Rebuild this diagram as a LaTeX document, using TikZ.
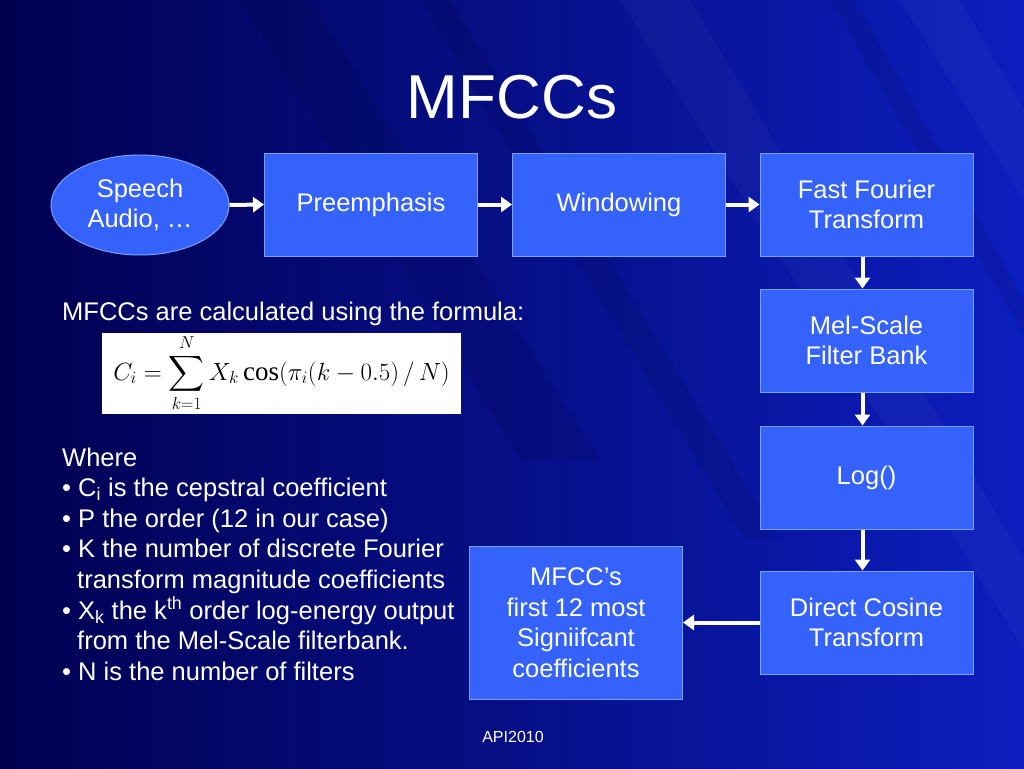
\documentclass[tikz,border=0pt]{standalone}
\usepackage{exscale}
\usepackage{fontspec}
\setmainfont{Liberation Serif}
\newfontfamily\arial{Liberation Sans}
\usetikzlibrary{shapes.geometric,arrows.meta}
\definecolor{bgA}{RGB}{0,0,80}
\definecolor{bgB}{RGB}{0,4,138}
\definecolor{bgC}{RGB}{12,30,190}
\definecolor{boxfill}{RGB}{52,98,250}
\definecolor{boxline}{RGB}{120,160,255}
\tikzset{
  stepbox/.style={draw=boxline, line width=1pt, fill=boxfill, text=white,
    minimum width=213pt, minimum height=103pt, inner sep=0pt, align=center,
    font=\arial\fontsize{25.5}{30.5}\selectfont},
  flow/.style={draw=white, line width=4pt, -{Triangle[width=15pt,length=11pt]}},
  bodytext/.style={anchor=base west, text=white, inner sep=0pt,
    font=\arial\fontsize{25.5}{30}\selectfont},
  streak/.style={fill=black, fill opacity=0.08},
  lstreak/.style={fill=white, fill opacity=0.03}
}
\begin{document}
\begin{tikzpicture}[x=1pt,y=-1pt]
\useasboundingbox (0,0) rectangle (1024,768);
\shade[left color=bgA, middle color=bgB, right color=bgC] (0,0) rectangle (1024,768);
% subtle diagonal streaks
\fill[streak] (240,0) -- (310,0) -- (600,460) -- (520,460) -- cycle;
\fill[streak] (420,0) -- (450,0) -- (780,540) -- (745,540) -- cycle;
\fill[lstreak] (620,0) -- (690,0) -- (1024,560) -- (1024,650) -- cycle;
\fill[streak] (830,0) -- (855,0) -- (1024,300) -- (1024,335) -- cycle;
\fill[lstreak] (900,0) -- (960,0) -- (1024,110) -- (1024,200) -- cycle;

% title
\node[text=white, font=\arial\fontsize{62}{70}\selectfont, anchor=base] (title) at (512,118) {MFCCs};

% flow
\node[ellipse, draw=boxline, line width=1pt, fill=boxfill, text=white,
  minimum width=178pt, minimum height=100pt, inner sep=0pt, align=center,
  font=\arial\fontsize{25.5}{30.5}\selectfont] (speech) at (140,205) {Speech\\Audio, \dots};
\node[stepbox] (pre) at (371,204.5) {Preemphasis};
\node[stepbox] (win) at (619,204.5) {Windowing};
\node[stepbox] (fft) at (866.5,204.5) {Fast Fourier\\Transform};
\node[stepbox] (mel) at (866.5,340.5) {Mel-Scale\\Filter Bank};
\node[stepbox] (log) at (866.5,477.5) {Log()};
\node[stepbox] (dct) at (866.5,622.5) {Direct Cosine\\Transform};
\node[stepbox, minimum height=153pt] (mfcc) at (576,622.5) {MFCC’s\\first 12 most\\Signiifcant\\coefficients};

\draw[flow] (speech.east) -- (pre.west);
\draw[flow] (pre.east) -- (win.west);
\draw[flow] (win.east) -- (fft.west);
\draw[flow] ([xshift=-4pt]fft.south) -- ([xshift=-4pt]mel.north);
\draw[flow] ([xshift=-4pt]mel.south) -- ([xshift=-4pt]log.north);
\draw[flow] ([xshift=-4pt]log.south) -- ([xshift=-4pt]dct.north);
\draw[flow] (dct.west) -- (mfcc.east);

% formula
\node[bodytext] (intro) at (62,320) {MFCCs are calculated using the formula:};
\node[fill=white, minimum width=359pt, minimum height=81pt, inner sep=0pt,
  font=\fontsize{27}{30}\selectfont] (formula) at (281.5,373.5)
  {$\displaystyle C_i=\sum_{k=1}^{N}X_k\cos(\pi_i(k-0.5)\,/\,N)$};

% explanation
\node[bodytext] (l0) at (62,466) {Where};
\node[bodytext] (l1) at (62,496.6) {• C\textsubscript{i} is the cepstral coefficient};
\node[bodytext] (l2) at (62,527.2) {• P the order (12 in our case)};
\node[bodytext] (l3) at (62,557.8) {• K the number of discrete Fourier};
\node[bodytext] (l4) at (77,588.4) {transform magnitude coefficients};
\node[bodytext] (l5) at (62,619) {• X\textsubscript{k} the k\textsuperscript{th} order log-energy output};
\node[bodytext] (l6) at (77,649.6) {from the Mel-Scale filterbank.};
\node[bodytext] (l7) at (62,680.2) {• N is the number of filters};

\node[text=white, font=\arial\fontsize{16}{18}\selectfont] (footer) at (513,737) {API2010};
\end{tikzpicture}
\end{document}
